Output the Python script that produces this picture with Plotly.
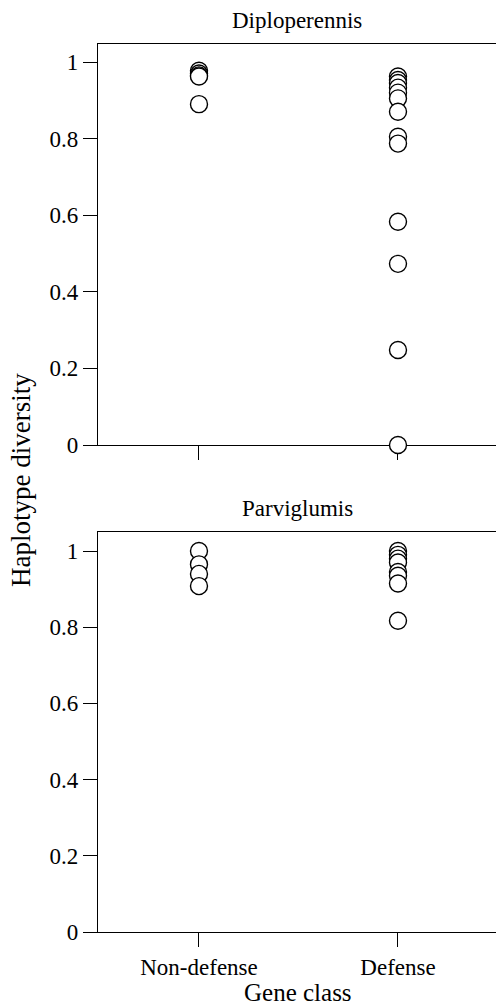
import plotly.graph_objects as go

categories = ["Non-defense", "Defense"]
cat_pos = [1, 2]

diplo_nondef = [0.977, 0.970, 0.965, 0.962, 0.890]
diplo_def = [0.962, 0.953, 0.945, 0.933, 0.920, 0.905, 0.870, 0.805, 0.787, 0.583, 0.473, 0.248, 0.0]

parvi_nondef = [1.0, 0.965, 0.940, 0.908]
parvi_def = [1.0, 0.990, 0.980, 0.970, 0.945, 0.935, 0.915, 0.817]

ytick_vals = [0, 0.2, 0.4, 0.6, 0.8, 1.0]
ytick_text = ["0", "0.2", "0.4", "0.6", "0.8", "1"]

FONT = "Liberation Serif"
W, H = 496, 1007
ML, MR, MT, MB = 98, 0, 44, 75
PH = H - MT - MB


def py(px):
    return (H - MB - px) / PH


fig = go.Figure()

marker = dict(symbol="circle", size=17, color="white", line=dict(color="black", width=1.4))

for vals, cat in ((diplo_nondef, cat_pos[0]), (diplo_def, cat_pos[1])):
    fig.add_trace(go.Scatter(x=[cat] * len(vals), y=vals, mode="markers", marker=marker,
                             cliponaxis=False, xaxis="x", yaxis="y", showlegend=False))
for vals, cat in ((parvi_nondef, cat_pos[0]), (parvi_def, cat_pos[1])):
    fig.add_trace(go.Scatter(x=[cat] * len(vals), y=vals, mode="markers", marker=marker,
                             cliponaxis=False, xaxis="x2", yaxis="y2", showlegend=False))

axis_common = dict(showline=True, linecolor="black", linewidth=1.4, ticks="outside",
                   ticklen=14, tickwidth=1.4, tickcolor="black", showgrid=False,
                   zeroline=False, layer="below traces",
                   tickfont=dict(family=FONT, size=23, color="black"))

top_dom = [py(445), 1.0]
bot_dom = [0.0, py(532)]

fig.update_layout(
    width=W, height=H,
    margin=dict(l=ML, r=MR, t=MT, b=MB),
    paper_bgcolor="white", plot_bgcolor="white",
    xaxis=dict(domain=[0, 1], range=[0.4925, 2.4925], tickvals=cat_pos, ticktext=categories,
               showticklabels=False, anchor="y", mirror=True, **axis_common),
    yaxis=dict(domain=top_dom, range=[0, 1.047], tickvals=ytick_vals, ticktext=ytick_text,
               anchor="x", **axis_common),
    xaxis2=dict(domain=[0, 1], range=[0.4925, 2.4925], tickvals=cat_pos, ticktext=categories,
                showticklabels=True, anchor="y2", mirror=True, **axis_common),
    yaxis2=dict(domain=bot_dom, range=[0, 1.05], tickvals=ytick_vals, ticktext=ytick_text,
                anchor="x2", **axis_common),
)

ann_font = dict(family=FONT, color="black")
fig.add_annotation(text="Diploperennis", xref="paper", yref="paper", x=0.5, y=py(20),
                   xanchor="center", yanchor="middle", showarrow=False,
                   font=dict(size=23, **ann_font))
fig.add_annotation(text="Parviglumis", xref="paper", yref="paper", x=0.5, y=py(508),
                   xanchor="center", yanchor="middle", showarrow=False,
                   font=dict(size=23, **ann_font))
fig.add_annotation(text="Gene class", xref="paper", yref="paper", x=(298 - ML) / (W - ML - MR),
                   y=py(992), xanchor="center", yanchor="middle", showarrow=False,
                   font=dict(size=25, **ann_font))
fig.add_annotation(text="Haplotype diversity", xref="paper", yref="paper",
                   x=(21 - ML) / (W - ML - MR), y=py(480), xanchor="center", yanchor="middle",
                   textangle=-90, showarrow=False, font=dict(size=27, **ann_font))

fig.write_html("out.html",
               config={"displayModeBar": False},
               post_script="document.body.style.margin='0';document.body.style.padding='0';"
                           "document.body.style.overflow='hidden';")
